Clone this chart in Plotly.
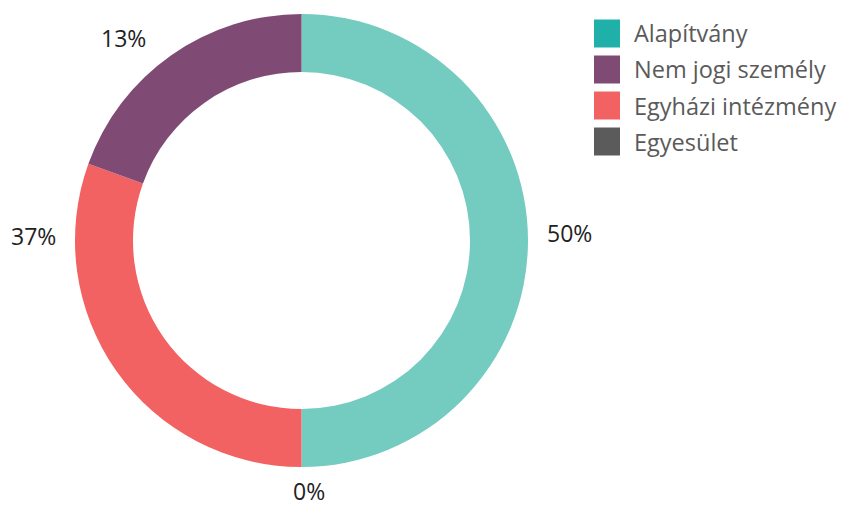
import plotly.graph_objects as go

# ---- data ----
categories = ["Alapítvány", "Egyesület", "Egyházi intézmény", "Nem jogi személy"]
slice_values = [50, 0, 30.5, 19.5]
slice_colors = ["#74cbc0", "#5b5b5b", "#f26262", "#7f4b74"]
value_labels = ["50%", "0%", "37%", "13%"]

legend_labels = ["Alapítvány", "Nem jogi személy", "Egyházi intézmény", "Egyesület"]
legend_colors = ["#1fb0aa", "#7f4b74", "#f26262", "#5b5b5b"]

W, H = 846, 506
FONT = "Open Sans"

def px(x):
    return x / W

def py(y):
    return 1 - y / H

fig = go.Figure()
fig.add_trace(go.Pie(
    labels=categories,
    values=slice_values,
    marker=dict(colors=slice_colors, line=dict(width=0)),
    hole=0.744,
    sort=False,
    direction="clockwise",
    rotation=0,
    textinfo="none",
    hoverinfo="label+percent",
    showlegend=False,
    domain=dict(x=[px(75), px(528)], y=[py(467), py(14)]),
))

# value labels placed around the ring: (x, y, yanchor)
label_pos = {"50%": (569, 233, "middle"), "0%": (309, 509, "bottom"),
             "37%": (33, 236, "middle"), "13%": (124, 38, "middle")}
annotations = []
for t in value_labels:
    x, y, ya = label_pos[t]
    annotations.append(dict(
        x=px(x), y=py(y), xref="paper", yref="paper", text=t, showarrow=False,
        xanchor="center", yanchor=ya,
        font=dict(family=FONT, size=23, color="#222222"),
    ))

# custom legend
shapes = []
row0, step = 33.5, 36
for i, (lab, col) in enumerate(zip(legend_labels, legend_colors)):
    cy = row0 + i * step
    shapes.append(dict(
        type="rect", xref="paper", yref="paper",
        x0=px(594), x1=px(620), y0=py(cy + 14), y1=py(cy - 14),
        fillcolor=col, line=dict(width=0),
    ))
    annotations.append(dict(
        x=px(632), y=py(cy), xref="paper", yref="paper", text=lab, showarrow=False,
        xanchor="left", yanchor="middle",
        font=dict(family=FONT, size=23.5, color="#5a5a5a"),
    ))

fig.update_layout(
    width=W, height=H,
    margin=dict(l=0, r=0, t=0, b=0),
    paper_bgcolor="white",
    plot_bgcolor="white",
    annotations=annotations,
    shapes=shapes,
    showlegend=False,
)

fig.write_html("out.html")
